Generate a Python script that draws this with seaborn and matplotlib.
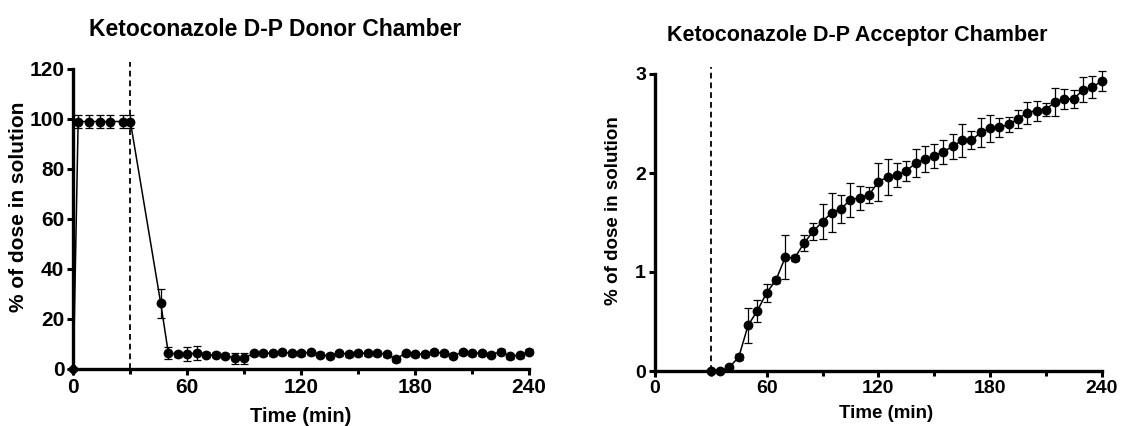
import matplotlib
matplotlib.use("Agg")
import matplotlib.pyplot as plt
import seaborn as sns
import pandas as pd
import numpy as np
from matplotlib.ticker import MultipleLocator

# ---------------- data ----------------
donor_time = [0, 2.5, 8, 14, 19.5, 26, 30, 46,
              50, 55, 60, 65, 70, 75, 80, 85, 90, 95,
              100, 105, 110, 115, 120, 125, 130, 135, 140, 145,
              150, 155, 160, 165, 170, 175, 180, 185, 190, 195,
              200, 205, 210, 215, 220, 225, 230, 235, 240]
donor_value = [0, 99, 99, 99, 99, 99, 99, 26.3,
               6.4, 6.0, 6.0, 6.4, 5.7, 5.7, 5.3, 4.4, 4.4, 6.3,
               6.3, 6.3, 6.7, 6.3, 6.3, 6.7, 5.7, 5.3, 6.3, 6.0,
               6.3, 6.3, 6.3, 6.0, 4.0, 6.4, 6.0, 6.0, 6.7, 6.4,
               5.3, 6.7, 6.3, 6.4, 5.7, 6.9, 5.1, 5.6, 6.9]
donor_err = [0, 2.7, 2.7, 2.7, 2.7, 2.7, 2.7, 5.8,
             2.5, 1.0, 2.7, 2.7, 1.0, 1.0, 1.0, 2.2, 2.2, 1.0,
             1.0, 1.0, 1.0, 1.0, 1.0, 1.0, 1.0, 1.0, 1.0, 1.0,
             1.0, 1.0, 1.0, 1.0, 1.0, 1.0, 1.0, 1.0, 1.0, 1.0,
             1.0, 1.0, 1.0, 1.0, 1.0, 1.0, 1.0, 1.0, 1.0]

acc_time = [30, 35, 40, 45, 50, 55, 60, 65, 70, 75,
            80, 85, 90, 95, 100, 105, 110, 115, 120, 125,
            130, 135, 140, 145, 150, 155, 160, 165, 170, 175,
            180, 185, 190, 195, 200, 205, 210, 215, 220, 225,
            230, 235, 240]
acc_value = [0.0, 0.0, 0.04, 0.14, 0.46, 0.61, 0.79, 0.92, 1.15, 1.14,
             1.29, 1.41, 1.51, 1.60, 1.64, 1.73, 1.75, 1.78, 1.91, 1.96,
             1.98, 2.02, 2.10, 2.14, 2.175, 2.215, 2.27, 2.33, 2.33, 2.41,
             2.45, 2.46, 2.49, 2.545, 2.61, 2.63, 2.64, 2.72, 2.745, 2.75,
             2.84, 2.865, 2.93]
acc_err = [0, 0, 0.01, 0.03, 0.18, 0.11, 0.09, 0.03, 0.22, 0.03,
           0.08, 0.09, 0.18, 0.20, 0.14, 0.17, 0.12, 0.08, 0.19, 0.18,
           0.12, 0.10, 0.14, 0.13, 0.12, 0.12, 0.125, 0.17, 0.09, 0.15,
           0.14, 0.10, 0.08, 0.09, 0.11, 0.10, 0.065, 0.14, 0.10, 0.09,
           0.125, 0.11, 0.10]

x_ticks = [0, 60, 120, 180, 240]
donor_yticks = [0, 20, 40, 60, 80, 100, 120]
acc_yticks = [0, 1, 2, 3]
dose_time = 30

titles = ["Ketoconazole D-P Donor Chamber", "Ketoconazole D-P Acceptor Chamber"]
xlabel = "Time (min)"
ylabel = "% of dose in solution"

# ---------------- style ----------------
sns.set_style("ticks")
plt.rcParams["font.family"] = ["Liberation Sans", "DejaVu Sans"]
plt.rcParams["font.weight"] = "bold"
plt.rcParams["text.color"] = "black"
plt.rcParams["axes.labelcolor"] = "black"
plt.rcParams["xtick.color"] = "black"
plt.rcParams["ytick.color"] = "black"

W, H = 1121, 426
fig = plt.figure(figsize=(W / 100, H / 100), dpi=100)

axL = fig.add_axes([73.4 / W, 1 - 369 / H, (529 - 73.4) / W, (369 - 69) / H])
axR = fig.add_axes([655 / W, 1 - 371 / H, (1101.7 - 655) / W, (371 - 74) / H])

donor = pd.DataFrame({"t": donor_time, "v": donor_value, "e": donor_err})
acc = pd.DataFrame({"t": acc_time, "v": acc_value, "e": acc_err})


def draw(ax, df, ymax, yticks, tick_fs, zero_diamond):
    sns.lineplot(data=df, x="t", y="v", ax=ax, color="black", lw=1.1,
                 estimator=None, sort=False, legend=False)
    ax.errorbar(df["t"], df["v"], yerr=df["e"], fmt="none", ecolor="black",
                elinewidth=0.9, capsize=2.8, capthick=0.9, zorder=3, clip_on=False)
    if zero_diamond:
        circ = df[df["t"] > 0]
        dia = df[df["t"] == 0]
        sns.scatterplot(data=dia, x="t", y="v", ax=ax, marker="D", s=40,
                        color="black", edgecolor="black", linewidth=0,
                        zorder=5, clip_on=False, legend=False)
    else:
        circ = df
    sns.scatterplot(data=circ, x="t", y="v", ax=ax, marker="o", s=50,
                    color="black", edgecolor="black", linewidth=0,
                    zorder=5, clip_on=False, legend=False)
    ax.axvline(dose_time, ymin=0, ymax=1.025, color="black", lw=1.3,
               ls=(0, (3.2, 2.2)), clip_on=False, zorder=2)
    ax.set_xlim(0, 240)
    ax.set_ylim(0, ymax)
    ax.set_xticks(x_ticks)
    ax.xaxis.set_minor_locator(MultipleLocator(30))
    ax.set_yticks(yticks)
    ax.set_xlabel("")
    ax.set_ylabel("")
    for s in ["top", "right"]:
        ax.spines[s].set_visible(False)
    for s in ["left", "bottom"]:
        ax.spines[s].set_linewidth(2.4)
        ax.spines[s].set_color("black")
    ax.tick_params(axis="both", which="major", direction="out", length=4,
                   width=2.2, colors="black", labelsize=tick_fs, pad=2.5)
    ax.tick_params(axis="x", which="minor", direction="out", length=3.5,
                   width=2.2, colors="black")
    for lab in ax.get_xticklabels() + ax.get_yticklabels():
        lab.set_fontweight("bold")
        lab.set_color("black")


draw(axL, donor, 120, donor_yticks, 15, True)
draw(axR, acc, 3, acc_yticks, 14, False)

fig.text(275.5 / W, 1 - 30 / H, titles[0], ha="center", va="center",
         fontsize=16.5, fontweight="bold", color="black")
fig.text(857 / W, 1 - 35 / H, titles[1], ha="center", va="center",
         fontsize=15.5, fontweight="bold", color="black")

fig.text(18.5 / W, 1 - 207 / H, ylabel, rotation=90, ha="center", va="center",
         fontsize=15, fontweight="bold", color="black")
fig.text(614 / W, 1 - 211 / H, ylabel, rotation=90, ha="center", va="center",
         fontsize=13.5, fontweight="bold", color="black")

fig.text(301 / W, 1 - 416 / H, xlabel, ha="center", va="center",
         fontsize=14.5, fontweight="bold", color="black")
fig.text(886 / W, 1 - 414 / H, xlabel, ha="center", va="center",
         fontsize=13.5, fontweight="bold", color="black")

fig.savefig("out.png", dpi=100)
